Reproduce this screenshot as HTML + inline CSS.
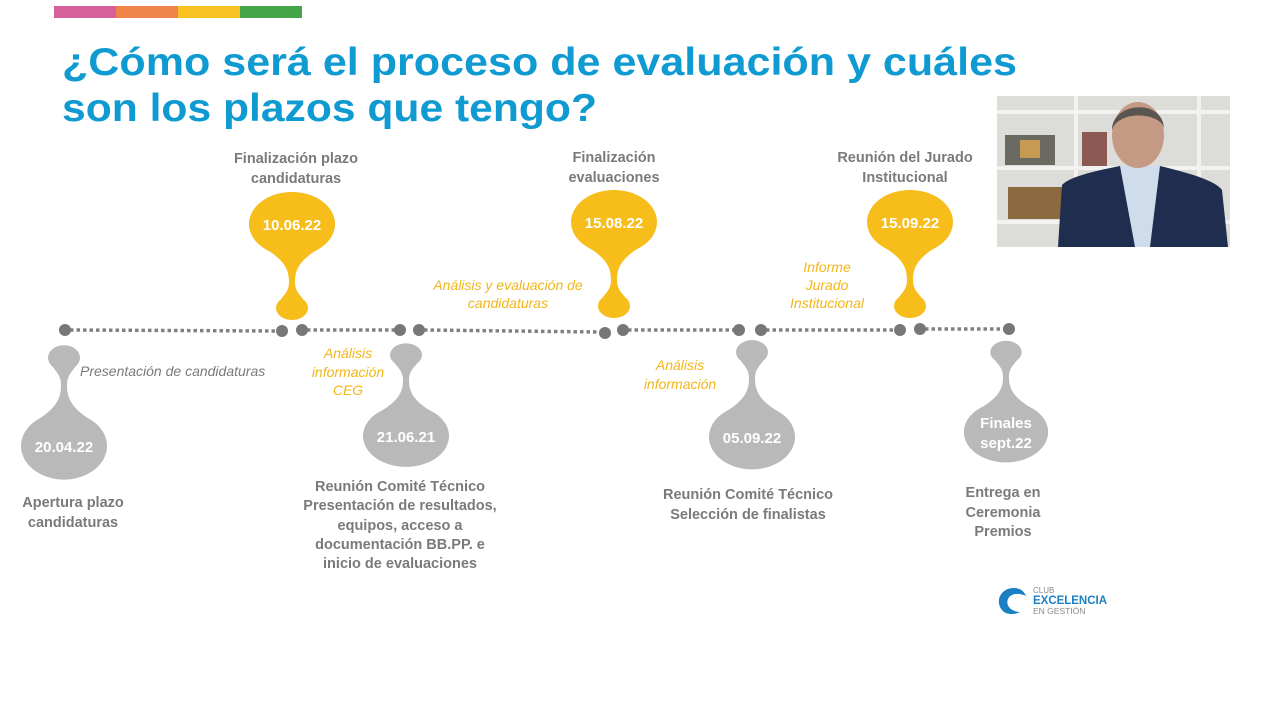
<!DOCTYPE html>
<html><head><meta charset="utf-8"><style>
html,body{margin:0;padding:0;background:#fff;}
svg{display:block;}
.g{font-family:"Liberation Sans",sans-serif;font-weight:bold;font-size:14.5px;fill:#7a7a7a;}
.y{font-family:"Liberation Sans",sans-serif;font-style:italic;font-size:14px;fill:#f2b617;}
.gi{font-family:"Liberation Sans",sans-serif;font-style:italic;font-size:14px;fill:#7a7a7a;}
.d{font-family:"Liberation Sans",sans-serif;font-weight:bold;font-size:15px;fill:#fff;}
</style></head><body>
<svg width="1280" height="720" viewBox="0 0 1280 720" xmlns="http://www.w3.org/2000/svg">
<defs>
<g id="drop">
<ellipse cx="0" cy="0" rx="43" ry="32"/>
<ellipse cx="0" cy="84" rx="16" ry="12"/>
<path d="M -26,25 C -9,36 -3,44 -3,58 C -3,67 -8,71 -11,75 L 11,75 C 8,71 3,67 3,58 C 3,44 9,36 26,25 Z"/>
</g>
</defs>
<rect x="54" y="6" width="62" height="12" fill="#d7609a"/>
<rect x="116" y="6" width="62" height="12" fill="#ef844a"/>
<rect x="178" y="6" width="62" height="12" fill="#f8c322"/>
<rect x="240" y="6" width="62" height="12" fill="#43a548"/>
<g font-family="Liberation Sans,sans-serif" font-weight="bold" font-size="39" fill="#0f9bd2">
<text x="62" y="75" textLength="955" lengthAdjust="spacingAndGlyphs">¿Cómo será el proceso de evaluación y cuáles</text>
<text x="62" y="121" textLength="535" lengthAdjust="spacingAndGlyphs">son los plazos que tengo?</text>
</g>
<g stroke="#808080" stroke-width="3.5" stroke-dasharray="3.5 3">
<line x1="70" y1="330" x2="278" y2="331"/>
<line x1="307" y1="330" x2="396" y2="330"/>
<line x1="424" y1="330" x2="600" y2="332"/>
<line x1="628" y1="330" x2="734" y2="330"/>
<line x1="766" y1="330" x2="895" y2="330"/>
<line x1="925" y1="329" x2="1004" y2="329"/>
</g>
<g fill="#777">
<circle cx="65" cy="330" r="6"/><circle cx="282" cy="331" r="6"/><circle cx="302" cy="330" r="6"/>
<circle cx="400" cy="330" r="6"/><circle cx="419" cy="330" r="6"/><circle cx="605" cy="333" r="6"/>
<circle cx="623" cy="330" r="6"/><circle cx="739" cy="330" r="6"/><circle cx="761" cy="330" r="6"/>
<circle cx="900" cy="330" r="6"/><circle cx="920" cy="329" r="6"/><circle cx="1009" cy="329" r="6"/>
</g>
<g fill="#f6bd1b">
<use href="#drop" transform="translate(292,224)"/>
<use href="#drop" transform="translate(614,222)"/>
<use href="#drop" transform="translate(910,222)"/>
</g>
<g fill="#b9b9b9">
<use href="#drop" transform="translate(64,446) scale(1,-1.05)"/>
<use href="#drop" transform="translate(406,436) scale(1,-0.965)"/>
<use href="#drop" transform="translate(752,437) scale(1,-1.01)"/>
<use href="#drop" transform="translate(1006,432) scale(0.98,-0.95)"/>
</g>
<g class="d" text-anchor="middle">
<text x="292" y="230">10.06.22</text>
<text x="614" y="228">15.08.22</text>
<text x="910" y="228">15.09.22</text>
<text x="64" y="452">20.04.22</text>
<text x="406" y="442">21.06.21</text>
<text x="752" y="443">05.09.22</text>
<text x="1006" y="428">Finales</text>
<text x="1006" y="448">sept.22</text>
</g>
<g class="g" text-anchor="middle">
<text x="296" y="163">Finalización plazo</text>
<text x="296" y="183">candidaturas</text>
<text x="614" y="162">Finalización</text>
<text x="614" y="182">evaluaciones</text>
<text x="905" y="162">Reunión del Jurado</text>
<text x="905" y="182">Institucional</text>
<text x="73" y="507">Apertura plazo</text>
<text x="73" y="527">candidaturas</text>
<text x="400" y="491">Reunión Comité Técnico</text>
<text x="400" y="510">Presentación de resultados,</text>
<text x="400" y="530">equipos, acceso a</text>
<text x="400" y="549">documentación BB.PP. e</text>
<text x="400" y="568">inicio de evaluaciones</text>
<text x="748" y="499">Reunión Comité Técnico</text>
<text x="748" y="519">Selección de finalistas</text>
<text x="1003" y="497">Entrega en</text>
<text x="1003" y="517">Ceremonia</text>
<text x="1003" y="536">Premios</text>
</g>
<text class="gi" x="80" y="376">Presentación de candidaturas</text>
<g class="y" text-anchor="middle">
<text x="348" y="358">Análisis</text>
<text x="348" y="377">información</text>
<text x="348" y="395">CEG</text>
<text x="508" y="290">Análisis y evaluación de</text>
<text x="508" y="308">candidaturas</text>
<text x="680" y="370">Análisis</text>
<text x="680" y="389">información</text>
<text x="827" y="272">Informe</text>
<text x="827" y="290">Jurado</text>
<text x="827" y="308">Institucional</text>
</g>
<path d="M1014,588 C1000,588 995,602 1002,610 C1006,615 1014,615 1020,612 C1012,612 1005,606 1008,599 C1010,594 1018,592 1026,596 C1024,591 1020,588 1014,588 Z" fill="#1b7fc4"/>
<text x="1033" y="593" font-family="Liberation Sans,sans-serif" font-size="8" fill="#888">CLUB</text>
<text x="1033" y="604" font-family="Liberation Sans,sans-serif" font-weight="bold" font-size="11.5" fill="#1b7fc4" textLength="74" lengthAdjust="spacingAndGlyphs">EXCELENCIA</text>
<text x="1033" y="614" font-family="Liberation Sans,sans-serif" font-size="8.5" fill="#888">EN GESTIÓN</text>
<g>
<rect x="997" y="96" width="233" height="151" fill="#dcdcd8"/>
<rect x="997" y="110" width="233" height="4" fill="#f2f2f0"/>
<rect x="997" y="166" width="233" height="4" fill="#f2f2f0"/>
<rect x="997" y="220" width="233" height="4" fill="#f2f2f0"/>
<rect x="1074" y="96" width="4" height="151" fill="#f2f2f0"/>
<rect x="1197" y="96" width="4" height="151" fill="#f2f2f0"/>
<rect x="1005" y="135" width="50" height="30" fill="#6b6a62"/>
<rect x="1008" y="187" width="55" height="32" fill="#8a6a3e"/>
<rect x="1082" y="132" width="25" height="34" fill="#8c5a52"/>
<rect x="1020" y="140" width="20" height="18" fill="#c69a52"/>
<path d="M1058,247 L1062,185 C1070,176 1100,170 1120,166 L1160,166 C1185,172 1215,180 1222,190 L1228,247 Z" fill="#1f2d4f"/>
<path d="M1120,166 L1160,166 L1150,247 L1135,247 Z" fill="#cfdcec"/>
<ellipse cx="1138" cy="135" rx="26" ry="33" fill="#c59a85"/>
<path d="M1112,130 C1112,102 1162,98 1164,128 C1160,112 1118,110 1112,130 Z" fill="#5a5550"/>
</g>
</svg>
</body></html>
